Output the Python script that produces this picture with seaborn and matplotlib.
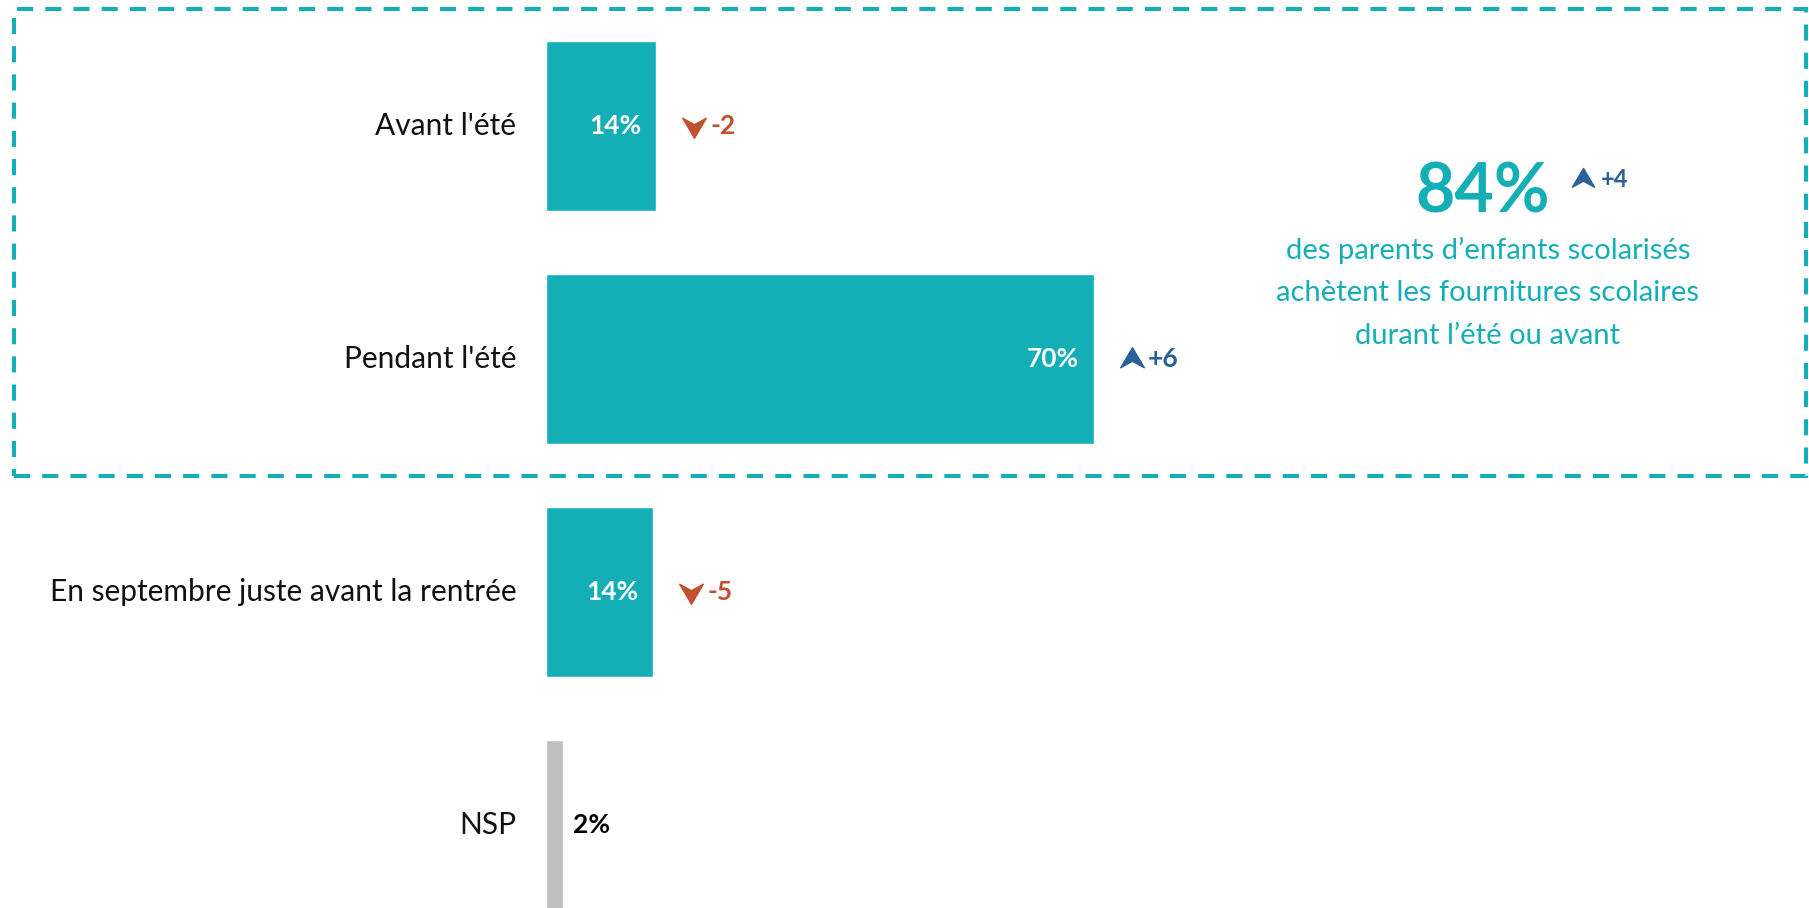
# graphique achat fournitures scolaires
import matplotlib
matplotlib.use('Agg')
import matplotlib.pyplot as plt
import seaborn as sns
import pandas as pd
from matplotlib.path import Path
from matplotlib.patches import Rectangle

# Données
categories = ["Avant l'été", "Pendant l'été", "En septembre juste avant la rentrée", "NSP"]
valeurs = [14.1, 70, 13.7, 2.2]
etiquettes = ['14%', '70%', '14%', '2%']
evolutions = ['-2', '+6', '-5', None]
total = '84%'
evolutionTotal = '+4'
texteTotal = ["des parents d’enfants scolarisés",
              "achètent les fournitures scolaires",
              "durant l’été ou avant"]

# Couleurs
turquoise = '#14AFB6'
gris = '#BFBFBF'
rouge = '#C0502E'
bleu = '#2B6199'

sns.set_style('white')
plt.rcParams['font.family'] = ['Lato', 'DejaVu Sans']

df = pd.DataFrame({'categorie': categories, 'valeur': valeurs})

# flèches (pointe de navigation)
flecheBas = Path([(-1, 0.7), (0, -1), (1, 0.7), (0, 0.15), (-1, 0.7)],
                 [Path.MOVETO, Path.LINETO, Path.LINETO, Path.LINETO, Path.CLOSEPOLY])
flecheHaut = Path([(-1, -0.7), (0, 1), (1, -0.7), (0, -0.15), (-1, -0.7)],
                  [Path.MOVETO, Path.LINETO, Path.LINETO, Path.LINETO, Path.CLOSEPOLY])

fig = plt.figure(figsize=(18.09, 9.08), dpi=100)
ax = fig.add_axes([546 / 1809, 0, 783 / 1809, 1])

sns.barplot(data=df, x='valeur', y='categorie', hue='categorie', orient='h',
            palette=[turquoise, turquoise, turquoise, gris], legend=False,
            width=0.73, saturation=1, ax=ax)

ax.set_xlim(0, 100)
ax.set_ylim(3.358, -0.539)
ax.axis('off')

for i, (cat, val, lab, evo) in enumerate(zip(categories, valeurs, etiquettes, evolutions)):
    # libellé de catégorie
    ax.text(-3.8, i, cat, ha='right', va='center', fontsize=21.5, color='#111111', clip_on=False)
    # valeur
    if i < 3:
        ax.text(val - 1.9, i, lab, ha='right', va='center', fontsize=19,
                fontweight='bold', color='white')
    else:
        ax.text(val + 1.3, i, lab, ha='left', va='center', fontsize=19,
                fontweight='bold', color='black')
    # évolution
    if evo:
        couleur = rouge if evo.startswith('-') else bleu
        marqueur = flecheBas if evo.startswith('-') else flecheHaut
        ax.plot([val + 4.8], [i], marker=marqueur, markersize=17, color=couleur,
                linestyle='none', clip_on=False)
        ax.text(val + 6.9, i, evo, ha='left', va='center', fontsize=19,
                fontweight='bold', color=couleur)

# Encadré total
fig.text(0.8198, 0.787, total, ha='center', va='center', fontsize=49,
         fontweight='bold', color=turquoise)
fig.lines.append(plt.Line2D([1583 / 1809], [0.803], marker=flecheHaut, markersize=16,
                            color=bleu, linestyle='none', transform=fig.transFigure))
fig.text(0.885, 0.802, evolutionTotal, ha='left', va='center', fontsize=17,
         fontweight='bold', color=bleu)
for k, ligne in enumerate(texteTotal):
    fig.text(0.8225, 0.724 - k * 0.047, ligne, ha='center', va='center',
             fontsize=21, color=turquoise)

fig.patches.append(Rectangle((14 / 1809, 1 - 476 / 908), (1806 - 14) / 1809, 467 / 908,
                             transform=fig.transFigure, fill=False, edgecolor=turquoise,
                             linewidth=2.9, linestyle=(0, (4, 3))))

plt.savefig('out.png', dpi=100)
